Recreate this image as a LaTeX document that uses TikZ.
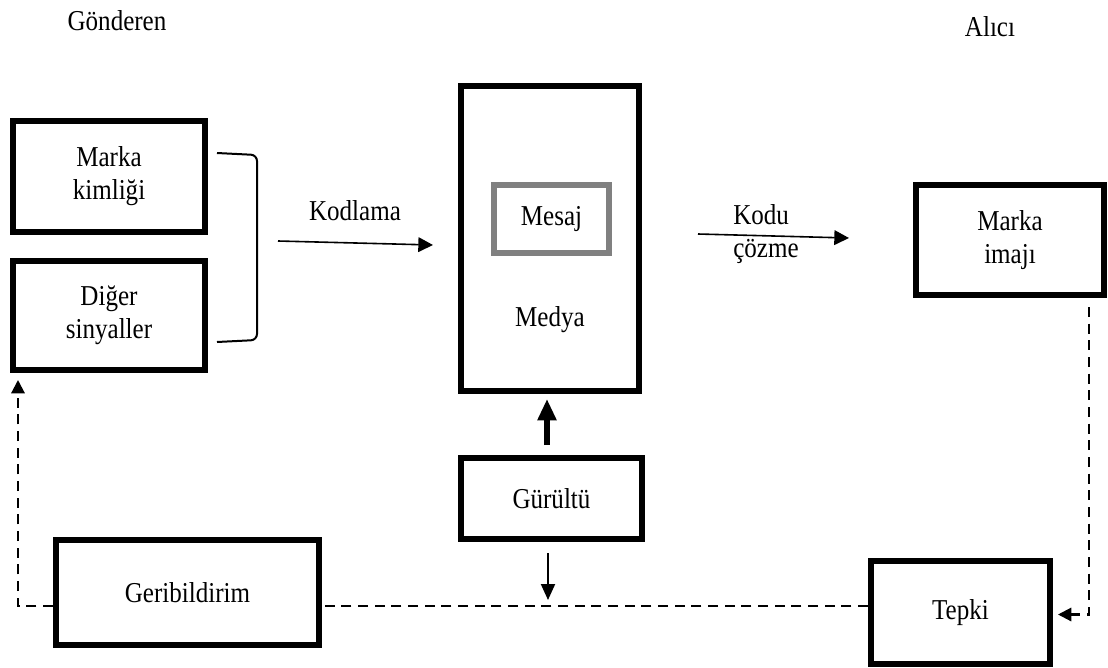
\documentclass[tikz,border=0pt]{standalone}
\usepackage{fontspec}
\setmainfont{Liberation Serif}[FakeStretch=0.87]
\usetikzlibrary{arrows.meta,calc}
\definecolor{msgray}{RGB}{128,128,128}
\begin{document}
\begin{tikzpicture}[x=0.75pt,y=-0.75pt,
  every node/.style={font=\fontsize{21.6}{24.75}\selectfont},
  box/.style={draw=black,line width=4.2pt,inner sep=0pt,align=center},
  plain/.style={inner sep=0pt,align=center},
  thinarrow/.style={line width=1.2pt,-{Triangle[length=11pt,width=11pt]}},
  fb/.style={line width=1.6pt,dash pattern=on 7.5pt off 5pt},
  fbarrow/.style={fb,-{Triangle[length=10pt,width=10pt]}}
]
\useasboundingbox (0,0) rectangle (1108,668);

% titles
\node[plain] (gonderen) at (117,21) {Gönderen};
\node[plain] (alici) at (990,27) {Alıcı};

% boxes
\node[box,minimum width=144.3pt,minimum height=83.55pt] (mk) at (109,176.5) {Marka\\kimliği};
\node[box,minimum width=144.3pt,minimum height=82.05pt] (ds) at (109,315.5) {Diğer\\sinyaller};
\node[box,minimum width=133.8pt,minimum height=229.05pt] (medya) at (550,238.5) {};
\node[draw=msgray,line width=4.5pt,inner sep=0pt,minimum width=86.25pt,minimum height=51pt] (mesaj) at (551.5,219) {Mesaj};
\node[plain] (medyalbl) at (550,320) {Medya};
\node[box,minimum width=141.3pt,minimum height=82.8pt] (imaj) at (1010,240) {Marka\\imajı};
\node[box,minimum width=136.05pt,minimum height=61.05pt] (gur) at (551.5,498.5) {Gürültü};
\node[box,minimum width=197.55pt,minimum height=79.05pt] (geri) at (187.5,592.5) {Geribildirim};
\node[box,minimum width=134.55pt,minimum height=77.55pt] (tepki) at (960.5,612.5) {Tepki};

% bracket
\draw[line width=1.5pt,rounded corners=4.5pt] (217,153) -- (257,155) -- (257,340) -- (217,342);

% Kodlama arrow
\coordinate (kodS) at (278,241);
\draw[thinarrow] (kodS) -- ($(medya.west)+(-25,6.5)$);
\node[plain] (kodlama) at (355,211) {Kodlama};

% Kodu cozme arrow
\draw[thinarrow] ($(medya.east)+(56,-4.5)$) -- ($(imaj.west)+(-64,-2)$);
\node[plain,align=left,anchor=west] (kodu) at (733,234) {Kodu\\çözme};

% noise arrows
\coordinate (fbY) at (0,606);
\draw[line width=4.5pt,-{Triangle[length=16pt,width=13.5pt]}] ($(gur.north)+(-4.5,-9.8)$) -- ($(medya.south)+(-3,5)$);
\draw[line width=1.5pt,-{Triangle[length=12pt,width=10.5pt]}] ($(gur.south)+(-3.5,11)$) -- ($(gur.south |- fbY)+(-3.5,-6)$);

% feedback loop
\coordinate (fbR) at (1089,307);
\coordinate (fbL) at (18,0);
\draw[fbarrow] (fbR) |- ($(tepki.east)+(5,2)$);
\draw[fb] (tepki.west |- fbY) -- (geri.east |- fbY);
\draw[fbarrow] (geri.west |- fbY) -| ($(ds.south -| fbL)+(0,7)$);
\end{tikzpicture}
\end{document}
